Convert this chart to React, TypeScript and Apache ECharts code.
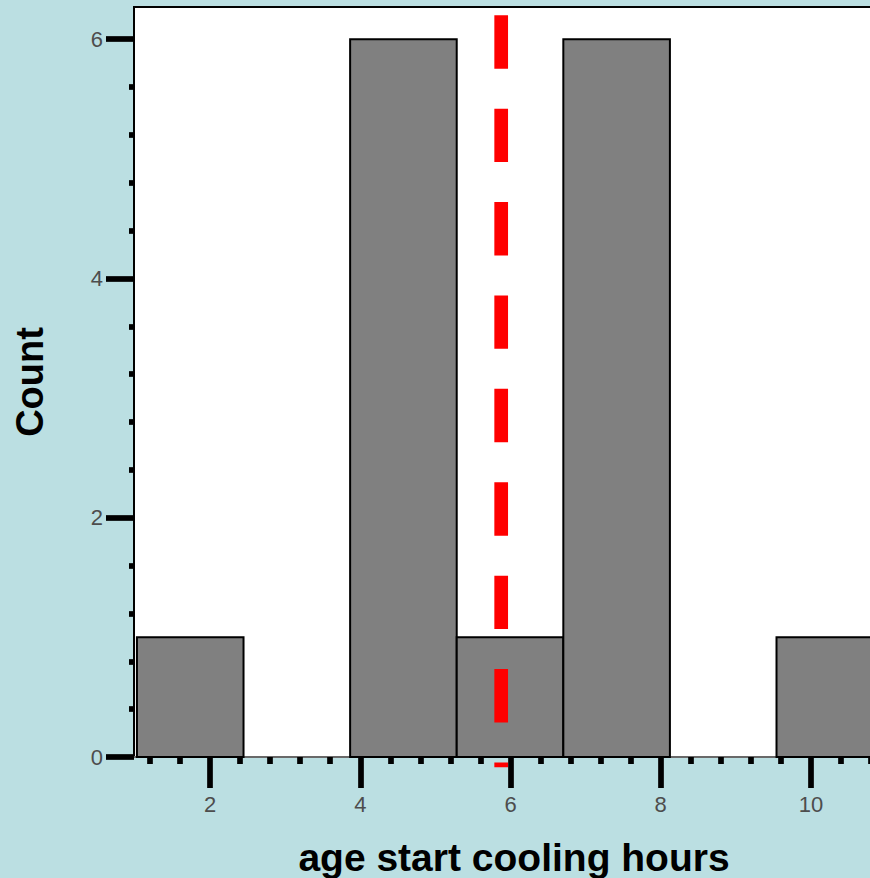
import React, { useEffect, useRef } from "react";
import * as echarts from "echarts";

// ---- data ----
const binEdges = [1.027, 2.446, 3.865, 5.284, 6.703, 8.122, 9.541, 10.96];
const counts = [1, 0, 6, 1, 6, 0, 1];
const meanValue = 5.876;
const meanLineTop = 6.2;
const meanLineBottom = -0.085;
const xMajorTicks = [2, 4, 6, 8, 10];
const xMinorTicks = [1.2, 1.6, 2.4, 2.8, 3.2, 3.6, 4.4, 4.8, 5.2, 5.6, 6.4, 6.8, 7.2, 7.6, 8.4, 8.8, 9.2, 9.6, 10.4, 10.8];
const yMajorTicks = [0, 2, 4, 6];
const yMinorTicks = [0.4, 0.8, 1.2, 1.6, 2.4, 2.8, 3.2, 3.6, 4.4, 4.8, 5.2, 5.6];
const xTitle = "age start cooling hours";
const yTitle = "Count";
const xRange = [0.988, 11.105];
const yRange = [0, 6.269];

const FONT = "'Liberation Sans', Arial, sans-serif";
const BG = "#BBDFE2";

export default function App() {
  const ref = useRef<HTMLDivElement>(null);

  useEffect(() => {
    if (!ref.current) return;
    const chart = echarts.init(ref.current, undefined, { renderer: "svg" });

    const histData = counts.map((c, i) => [binEdges[i], binEdges[i + 1], c]);

    const option: any = {
      animation: false,
      backgroundColor: BG,
      textStyle: { fontFamily: FONT },
      grid: {
        left: 134,
        top: 7,
        right: 0,
        bottom: 121,
        containLabel: false,
        outerBoundsMode: "none",
        show: true,
        backgroundColor: "#ffffff",
        borderColor: "#000000",
        borderWidth: 2,
      },
      xAxis: [
        {
          type: "value",
          min: xRange[0],
          max: xRange[1],
          position: "bottom",
          axisLine: { show: true, onZero: false, lineStyle: { color: "#8c8c8c", width: 1.5 } },
          axisTick: {
            show: true,
            customValues: xMajorTicks,
            length: 31,
            lineStyle: { color: "#000", width: 5.7 },
          },
          axisLabel: {
            show: true,
            customValues: xMajorTicks,
            margin: 36,
            fontSize: 22,
            color: "#4D4D4D",
            fontFamily: FONT,
          },
          splitLine: { show: false },
          name: xTitle,
          nameLocation: "middle",
          nameGap: 81,
          nameTextStyle: { fontSize: 39, fontWeight: "bold", color: "#000", fontFamily: FONT },
        },
        {
          type: "value",
          min: xRange[0],
          max: xRange[1],
          position: "bottom",
          axisLine: { show: false },
          axisTick: {
            show: true,
            customValues: xMinorTicks,
            length: 7,
            lineStyle: { color: "#000", width: 5.7 },
          },
          axisLabel: { show: false },
          splitLine: { show: false },
        },
      ],
      yAxis: [
        {
          type: "value",
          min: yRange[0],
          max: yRange[1],
          position: "left",
          axisLine: { show: true, onZero: false, lineStyle: { color: "#000", width: 2 } },
          axisTick: {
            show: true,
            customValues: yMajorTicks,
            length: 28,
            lineStyle: { color: "#000", width: 5.7 },
          },
          axisLabel: {
            show: true,
            customValues: yMajorTicks,
            margin: 31,
            fontSize: 22,
            color: "#4D4D4D",
            fontFamily: FONT,
          },
          splitLine: { show: false },
          name: yTitle,
          nameLocation: "middle",
          nameGap: 85,
          nameRotate: 90,
          nameTextStyle: { fontSize: 38, fontWeight: "bold", color: "#000", fontFamily: FONT },
        },
        {
          type: "value",
          min: yRange[0],
          max: yRange[1],
          position: "left",
          axisLine: { show: false },
          axisTick: {
            show: true,
            customValues: yMinorTicks,
            length: 5,
            lineStyle: { color: "#000", width: 5.7 },
          },
          axisLabel: { show: false },
          splitLine: { show: false },
        },
      ],
      series: [
        {
          type: "custom",
          xAxisIndex: 0,
          yAxisIndex: 0,
          data: histData,
          z: 3,
          renderItem: (params: any, api: any) => {
            const start = api.value(0);
            const end = api.value(1);
            const c = api.value(2);
            if (!c) return null;
            const p0 = api.coord([start, c]);
            const p1 = api.coord([end, 0]);
            return {
              type: "rect",
              shape: { x: p0[0], y: p0[1], width: p1[0] - p0[0], height: p1[1] - p0[1] },
              style: { fill: "#808080", stroke: "#000000", lineWidth: 2 },
            };
          },
        },
        {
          type: "line",
          xAxisIndex: 0,
          yAxisIndex: 0,
          data: [
            [meanValue, meanLineTop],
            [meanValue, meanLineBottom],
          ],
          symbol: "none",
          clip: false,
          z: 10,
          silent: true,
          lineStyle: { color: "#FF0000", width: 13.7, type: [53.4, 40], cap: "butt" },
        },
      ],
    };

    chart.setOption(option);
    return () => chart.dispose();
  }, []);

  return (
    <div
      style={{
        position: "fixed",
        left: 0,
        top: 0,
        width: 870,
        height: 878,
        overflow: "hidden",
        background: BG,
      }}
    >
      <div ref={ref} style={{ width: 894, height: 878 }} />
    </div>
  );
}
